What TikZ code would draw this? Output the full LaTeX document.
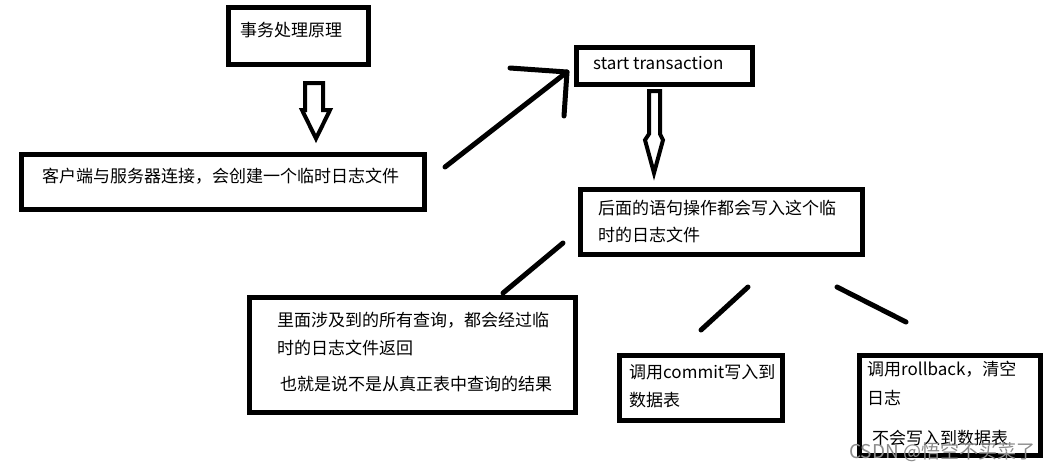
\documentclass[tikz,border=0pt]{standalone}
\usepackage{fontspec}
\newfontfamily\cjk{Noto Sans CJK SC}
\begin{document}
\begin{tikzpicture}[x=1pt,y=-1pt,
  box/.style={draw, line width=5pt, rectangle, inner sep=0pt, outer sep=0pt},
  txt/.style={anchor=west, inner sep=0pt, font=\cjk\fontsize{17pt}{20pt}\selectfont},
  bar/.style={line width=5pt, line cap=round, line join=round},
  hollow/.style={line width=4pt, line join=miter},
  wmark/.style={anchor=west, inner sep=0pt, text=black!45, font=\fontsize{19pt}{22pt}\selectfont\cjk}]
\fill[white] (0,0) rectangle (1052,472);
\useasboundingbox (0,0) rectangle (1052,472);

% boxes
\node[box, minimum width=140pt, minimum height=57pt] (b1) at (298,35.5) {};
\node[box, minimum width=403pt, minimum height=55pt] (b2) at (222.5,181.5) {};
\node[box, minimum width=176pt, minimum height=37pt] (b3) at (664.5,66) {};
\node[box, minimum width=282pt, minimum height=65pt] (b4) at (721.5,222) {};
\node[box, minimum width=326pt, minimum height=115pt] (b5) at (412.5,355) {};
\node[box, minimum width=163pt, minimum height=65pt] (b6) at (701,388) {};
\node[box, minimum width=181pt, minimum height=100pt] (b7) at (950,405.5) {};

% texts
\node[txt] (t1) at (240,30) {事务处理原理};
\node[txt] (t2) at (42,176) {客户端与服务器连接，会创建一个临时日志文件};
\node[txt] (t3) at (593,63) {start transaction};
\node[txt] (t4a) at (598,208) {后面的语句操作都会写入这个临};
\node[txt] (t4b) at (598,235) {时的日志文件};
\node[txt] (t5a) at (277,320) {里面涉及到的所有查询，都会经过临};
\node[txt] (t5b) at (277,348) {时的日志文件返回};
\node[txt] (t5c) at (280,384) {也就是说不是从真正表中查询的结果};
\node[txt] (t6a) at (629,372) {调用commit写入到};
\node[txt] (t6b) at (629,400) {数据表};
\node[txt] (t7a) at (867,369) {调用rollback，清空};
\node[txt] (t7b) at (867,398) {日志};
\node[txt] (t7c) at (872,438) {不会写入到数据表};
\node[wmark] (wm) at (849,452) {CSDN @悟空不买菜了};

% hollow arrows
\draw[hollow] (305,83) -- (323,83) -- (323,110) -- (330,110) -- (316,138.5) -- (302,110) -- (305,110) -- cycle;
\draw[hollow] (649,91) -- (660,91) -- (660,134) -- (663,140) -- (654,173) -- (645,140) -- (649,134) -- cycle;

% connector lines
\coordinate (a1s) at (445,167);
\coordinate (a1t) at (567,72);
\coordinate (a1h1) at (510,68);
\coordinate (a1h2) at (564,116);
\draw[bar] (a1s) -- (a1t);
\draw[bar] (a1h1) -- (a1t) -- (a1h2);

\coordinate (l2s) at (563,243);
\coordinate (l2e) at (503,293);
\draw[bar] (l2s) -- (l2e);

\coordinate (l3s) at (748,287);
\coordinate (l3e) at (701,330);
\draw[bar] (l3s) -- (l3e);

\coordinate (l4s) at (837,287);
\coordinate (l4e) at (906,322);
\draw[bar] (l4s) -- (l4e);
\end{tikzpicture}
\end{document}
